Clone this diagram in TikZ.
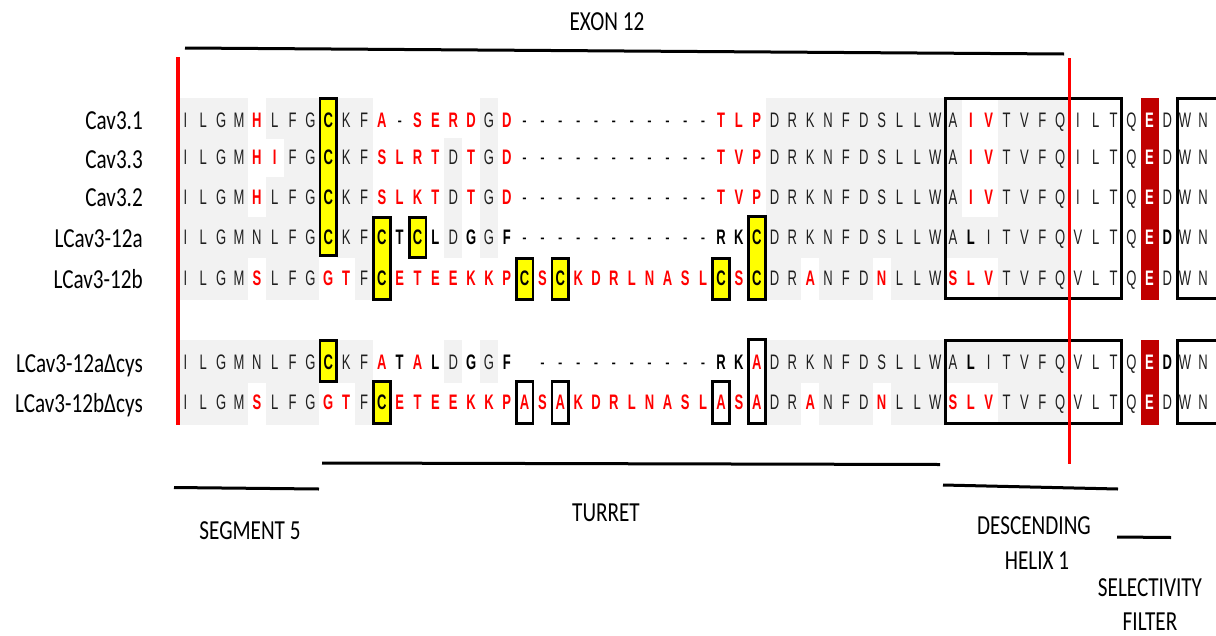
\documentclass[tikz,border=0pt]{standalone}
\usepackage{fontspec}
\newfontfamily\seqfont[FakeStretch=0.62]{Liberation Sans}
\newfontfamily\labfont[FakeStretch=0.77]{Carlito}
\definecolor{cellgrey}{HTML}{F2F2F2}
\definecolor{seqred}{HTML}{FF0000}
\definecolor{seqdark}{HTML}{C00000}
\definecolor{seqyellow}{HTML}{FFFF00}
\newcommand\seqsz{\fontsize{21}{24}\selectfont}
\def\dashes{d/-,d/-,d/-,d/-,d/-,d/-,d/-,d/-,d/-,d/-,d/-}
\edef\rowA{n/I,n/L,n/G,n/M,r/H,n/L,n/F,n/G,y/C,n/K,n/F,r/A,d/-,r/S,r/E,r/R,r/D,n/G,r/D,\dashes,r/T,r/L,r/P,n/D,n/R,n/K,n/N,n/F,n/D,n/S,n/L,n/L,n/W,n/A,r/I,r/V,n/T,n/V,n/F,n/Q,w/I,w/L,w/T,w/Q,e/E,w/D,w/W,w/N}
\edef\rowB{n/I,n/L,n/G,n/M,r/H,r/I,n/F,n/G,y/C,n/K,n/F,r/S,r/L,r/R,r/T,n/D,r/T,n/G,r/D,\dashes,r/T,r/V,r/P,n/D,n/R,n/K,n/N,n/F,n/D,n/S,n/L,n/L,n/W,n/A,r/I,r/V,n/T,n/V,n/F,n/Q,w/I,w/L,w/T,w/Q,e/E,w/D,w/W,w/N}
\edef\rowC{n/I,n/L,n/G,n/M,r/H,n/L,n/F,n/G,y/C,n/K,n/F,r/S,r/L,r/K,r/T,n/D,r/T,n/G,r/D,\dashes,r/T,r/V,r/P,n/D,n/R,n/K,n/N,n/F,n/D,n/S,n/L,n/L,n/W,n/A,r/I,r/V,n/T,n/V,n/F,n/Q,w/I,w/L,w/T,w/Q,e/E,w/D,w/W,w/N}
\edef\rowD{n/I,n/L,n/G,n/M,n/N,n/L,n/F,n/G,y/C,n/K,n/F,y/C,b/T,y/C,b/L,n/D,b/G,n/G,b/F,\dashes,b/R,b/K,y/C,n/D,n/R,n/K,n/N,n/F,n/D,n/S,n/L,n/L,n/W,n/A,B/L,n/I,n/T,n/V,n/F,n/Q,w/V,w/L,w/T,w/Q,e/E,b/D,w/W,w/N}
\edef\rowE{n/I,n/L,n/G,n/M,r/S,n/L,n/F,n/G,r/G,r/T,n/F,y/C,r/E,r/T,r/E,r/E,r/K,r/K,r/P,y/C,r/S,y/C,r/K,r/D,r/R,r/L,r/N,r/A,r/S,r/L,y/C,r/S,y/C,n/D,n/R,r/A,n/N,n/F,n/D,r/N,n/L,n/L,n/W,r/S,r/L,r/V,n/T,n/V,n/F,n/Q,w/V,w/L,w/T,w/Q,e/E,w/D,w/W,w/N}
\edef\rowF{n/I,n/L,n/G,n/M,n/N,n/L,n/F,n/G,y/C,n/K,n/F,r/A,b/T,r/A,b/L,n/D,b/G,n/G,b/F,x/,d/-,d/-,d/-,d/-,d/-,d/-,d/-,d/-,d/-,d/-,b/R,b/K,a/A,n/D,n/R,n/K,n/N,n/F,n/D,n/S,n/L,n/L,n/W,n/A,B/L,n/I,n/T,n/V,n/F,n/Q,w/V,w/L,w/T,w/Q,e/E,b/D,w/W,w/N}
\edef\rowG{n/I,n/L,n/G,n/M,r/S,n/L,n/F,n/G,r/G,r/T,n/F,y/C,r/E,r/T,r/E,r/E,r/K,r/K,r/P,a/A,r/S,a/A,r/K,r/D,r/R,r/L,r/N,r/A,r/S,r/L,a/A,r/S,a/A,n/D,n/R,r/A,n/N,n/F,n/D,r/N,n/L,n/L,n/W,r/S,r/L,r/V,n/T,n/V,n/F,n/Q,w/V,w/L,w/T,w/Q,e/E,w/D,w/W,w/N}
\newcommand\rowbg[3]{%
  \foreach \s/\c [count=\i] in #1 {%
    \pgfmathsetmacro\X{185.5+(\i-1)*17.85}%
    \path[bg \s] (\X-8.95,#2) rectangle (\X+8.95,#3);
  }}
\newcommand\rowtxt[3]{%
  \foreach \s/\c [count=\i] in #1 {%
    \pgfmathsetmacro\X{185.5+(\i-1)*17.85}%
    \node[lt \s] (#3c\i) at (\X,#2) {\c};
  }}
\newcommand\ybox[3]{%
  \pgfmathsetmacro\X{185.5+(#1-1)*17.85}%
  \draw[ybox] (\X-8.4,#2+1.4) rectangle (\X+8.4,#3-1.4);}
\newcommand\obox[3]{%
  \pgfmathsetmacro\X{185.5+(#1-1)*17.85}%
  \draw[obox] (\X-8.4,#2+1.4) rectangle (\X+8.4,#3-1.4);}
\begin{document}
\begin{tikzpicture}[x=1pt,y=-1pt,
  seq/.style={anchor=base,inner sep=0pt,font=\seqfont\seqsz},
  lt n/.style={seq,text=black!88},
  lt w/.style={seq,text=black!88},
  lt d/.style={seq,text=black},
  lt x/.style={seq},
  lt b/.style={seq,text=black,font=\seqfont\seqsz\bfseries},
  lt B/.style={lt b},
  lt y/.style={lt b},
  lt r/.style={seq,text=seqred,font=\seqfont\seqsz\bfseries},
  lt a/.style={lt r},
  lt e/.style={seq,text=white,font=\seqfont\seqsz\bfseries},
  bg n/.style={fill=cellgrey}, bg B/.style={fill=cellgrey},
  bg w/.style={}, bg b/.style={}, bg r/.style={}, bg d/.style={},
  bg x/.style={}, bg y/.style={}, bg a/.style={}, bg e/.style={},
  ybox/.style={fill=seqyellow,draw=black,line width=2.8pt},
  obox/.style={fill=white,draw=black,line width=2.8pt},
  frame/.style={draw=black,line width=3pt},
  bar/.style={draw=black,line width=3pt},
  redline/.style={draw=seqred,line width=3.2pt},
  lab/.style={font=\labfont\fontsize{27.5}{30}\selectfont,inner sep=0pt,text=black}]
\useasboundingbox (0,0) rectangle (1216,635);
% backgrounds
\rowbg{\rowA}{98}{138.5}
\rowbg{\rowB}{138}{177.5}
\rowbg{\rowC}{177}{217.5}
\rowbg{\rowD}{217}{257.5}
\rowbg{\rowE}{257}{300}
\rowbg{\rowF}{340}{382.5}
\rowbg{\rowG}{382}{425}
% selectivity E column
\fill[seqdark] (1140.5,97.5) rectangle (1159,300);
\fill[seqdark] (1140.5,339.5) rectangle (1159,425);
% cysteine boxes
\ybox{9}{97}{257}
\ybox{12}{216}{301}
\ybox{14}{216}{259}
\ybox{20}{257}{301}
\ybox{22}{257}{301}
\ybox{31}{257}{301}
\ybox{33}{215}{301}
\ybox{9}{339}{383}
\ybox{12}{380}{425}
\obox{20}{380}{425}
\obox{22}{380}{425}
\obox{31}{380}{425}
\obox{33}{338}{425}
% letters
\rowtxt{\rowA}{127}{ra}
\rowtxt{\rowB}{164.5}{rb}
\rowtxt{\rowC}{204.5}{rc}
\rowtxt{\rowD}{244.5}{rd}
\rowtxt{\rowE}{285.5}{re}
\rowtxt{\rowF}{369.5}{rf}
\rowtxt{\rowG}{409.5}{rg}
% frames
\draw[frame] (945.5,98.5) rectangle (1121.5,298.5);
\draw[frame] (945.5,340) rectangle (1121.5,423);
\draw[frame] (1177.5,98.5) rectangle (1240,298.5);
\draw[frame] (1177.5,340) rectangle (1240,423);
% red lines
\draw[redline] (178,57) -- (178,425);
\draw[redline] (1069.5,58) -- (1069.5,464);
% sequence names
\node[lab,anchor=base east] (n1) at (143,129) {Cav3.1};
\node[lab,anchor=base east] (n2) at (143,168) {Cav3.3};
\node[lab,anchor=base east] (n3) at (143,206) {Cav3.2};
\node[lab,anchor=base east] (n4) at (143,247) {LCav3-12a};
\node[lab,anchor=base east] (n5) at (143,288) {LCav3-12b};
\node[lab,anchor=base east] (n6) at (143,372) {LCav3-12aΔcys};
\node[lab,anchor=base east] (n7) at (143,412) {LCav3-12bΔcys};
% region bars and labels
\node[lab,anchor=base] (exon) at (607,30) {EXON 12};
\draw[bar] (185,48) -- (1064,54);
\draw[bar] (322,463) -- (940,464.5);
\draw[bar] (174,487.5) -- (319,489);
\draw[bar] (943,485) -- (1118,489);
\draw[bar] (1117,537) -- (1171,537.5);
\node[lab,anchor=base] (seg) at (250,539) {SEGMENT 5};
\node[lab,anchor=base] (turret) at (606,521) {TURRET};
\node[lab,anchor=base] (desc) at (1034,534) {DESCENDING};
\node[lab,anchor=base] (helix) at (1037,569) {HELIX 1};
\node[lab,anchor=base] (sel) at (1150,596) {SELECTIVITY};
\node[lab,anchor=base] (filt) at (1150,630) {FILTER};
\end{tikzpicture}
\end{document}
